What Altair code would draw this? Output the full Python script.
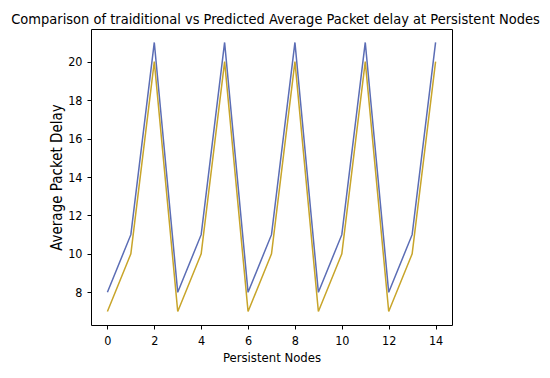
import altair as alt
import pandas as pd

nodes = list(range(15))
traditional = [8, 11, 21, 8, 11, 21, 8, 11, 21, 8, 11, 21, 8, 11, 21]
predicted = [7, 10, 20, 7, 10, 20, 7, 10, 20, 7, 10, 20, 7, 10, 20]

df = pd.DataFrame({
    "x": nodes * 2,
    "y": traditional + predicted,
    "series": ["Traditional"] * 15 + ["Predicted"] * 15,
})

FONT = "DejaVu Sans Condensed"

chart = alt.Chart(df).mark_line(strokeWidth=1.5, clip=True).encode(
    x=alt.X("x:Q", title="Persistent Nodes",
            scale=alt.Scale(domain=[-0.7, 14.7], nice=False, zero=False),
            axis=alt.Axis(values=[0, 2, 4, 6, 8, 10, 12, 14], format="d",
                          labelPadding=5, titlePadding=5, titleFontSize=13)),
    y=alt.Y("y:Q", title="Average Packet Delay",
            scale=alt.Scale(domain=[6.3, 21.7], nice=False, zero=False),
            axis=alt.Axis(values=[8, 10, 12, 14, 16, 18, 20], format="d",
                          labelPadding=5, titlePadding=3, titleFontSize=15)),
    color=alt.Color("series:N", legend=None,
                    scale=alt.Scale(domain=["Traditional", "Predicted"],
                                    range=["#5b6db5", "#c8a52a"])),
    detail="series:N",
).properties(
    width=361,
    height=296,
    padding={"left": 83, "top": 21, "right": 90, "bottom": 45},
    autosize=alt.AutoSizeParams(type="none"),
    title=alt.TitleParams(
        "Comparison of traiditional vs Predicted Average Packet delay at Persistent Nodes",
        font=FONT, fontSize=14.5, fontWeight="normal", color="#000000",
        anchor="middle", offset=2, dx=4,
    ),
).configure_view(
    stroke="#000000", strokeWidth=1
).configure_axis(
    grid=False,
    domain=False,
    tickColor="#000000",
    tickSize=4,
    labelFont=FONT,
    labelFontSize=12.5,
    labelColor="#000000",
    titleFont=FONT,
    titleFontWeight="normal",
    titleColor="#000000",
)

chart.save("out.html", embed_options={"renderer": "svg", "actions": False})
